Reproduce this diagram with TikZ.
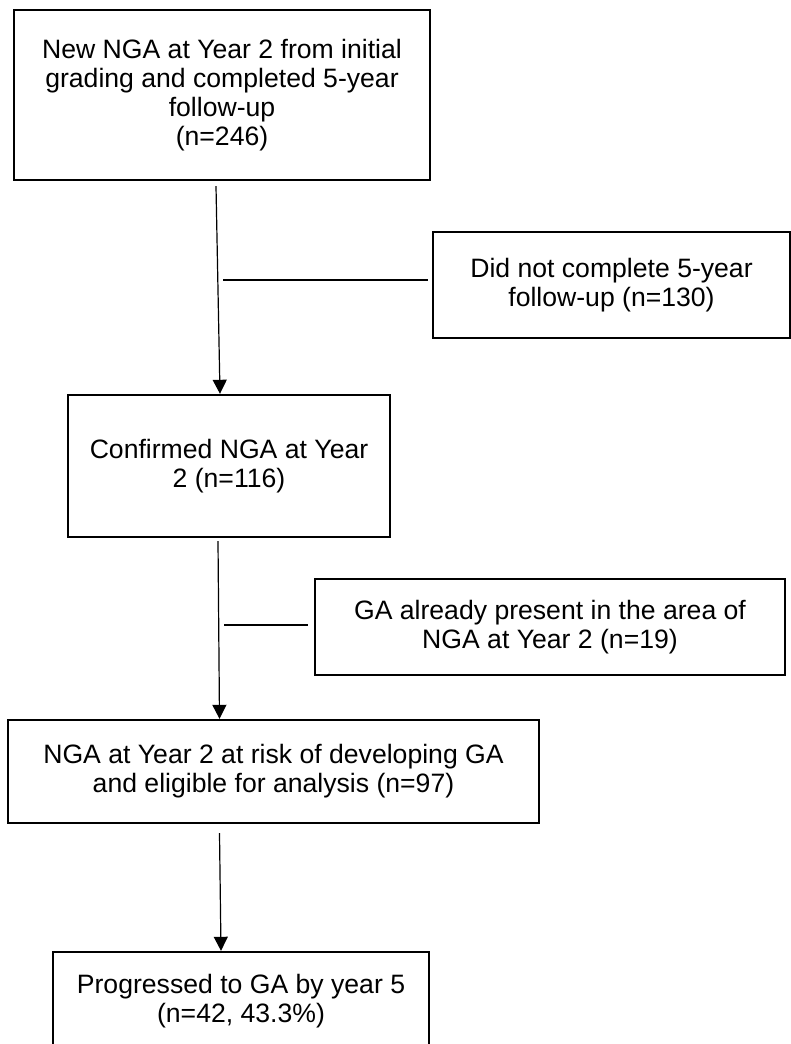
\documentclass[tikz,border=0pt]{standalone}
\usepackage{fontspec}
\setmainfont{Liberation Sans}
\usepackage{tikz}
\usetikzlibrary{arrows.meta, positioning}
\tikzset{
	box/.style={draw=black, line width=1.2pt, fill=white, align=center,
		inner sep=0pt, font=\fontsize{13.3pt}{14.4pt}\selectfont},
	link/.style={line width=0.6pt, black},
	arr/.style={-{Triangle[length=7pt, width=7pt]}, line width=0.6pt, black},
}

\begin{document}
\begin{tikzpicture}[x=0.5pt, y=-0.5pt]
	\useasboundingbox (0,0) rectangle (791,1044);
	\clip (0,0) rectangle (791,1044);
	% main column
	\node[box, minimum width=208pt, minimum height=85pt] (start) at (222,95)
		{New NGA at Year 2 from initial\\grading and completed 5-year\\follow-up\\(n=246)};
	\node[box, minimum width=161pt, minimum height=71pt] (confirmed) at (229,466)
		{Confirmed NGA at Year\\2 (n=116)};
	\node[box, minimum width=265.5pt, minimum height=51.5pt] (atrisk) at (273.5,771.5)
		{NGA at Year 2 at risk of developing GA\\and eligible for analysis (n=97)};
	\node[box, minimum width=188pt, minimum height=49pt] (progressed) at (241,1001)
		{Progressed to GA by year 5\\(n=42, 43.3\%)};
	% exclusions
	\node[box, minimum width=178.5pt, minimum height=53pt] (lost) at (611.5,285)
		{Did not complete 5-year\\follow-up (n=130)};
	\node[box, minimum width=235pt, minimum height=48pt] (present) at (550,627)
		{GA already present in the area of\\NGA at Year 2 (n=19)};
	\coordinate (lostfrom) at (223,280);
	\coordinate (presentfrom) at (224,625);
	% connectors
	\draw[arr] ([xshift=-3pt, yshift=-2.5pt]start.south) -- ([xshift=-4.5pt]confirmed.north);
	\draw[link] (lostfrom) -- ([xshift=-2pt, yshift=2.5pt]lost.west);
	\draw[arr] ([xshift=-5.5pt, yshift=-1.5pt]confirmed.south) -- ([xshift=-27pt]atrisk.north);
	\draw[link] (presentfrom) -- ([xshift=-3pt, yshift=1pt]present.west);
	\draw[arr] ([xshift=-27pt, yshift=-4.5pt]atrisk.south) -- ([xshift=-10pt]progressed.north);
\end{tikzpicture}
\end{document}
